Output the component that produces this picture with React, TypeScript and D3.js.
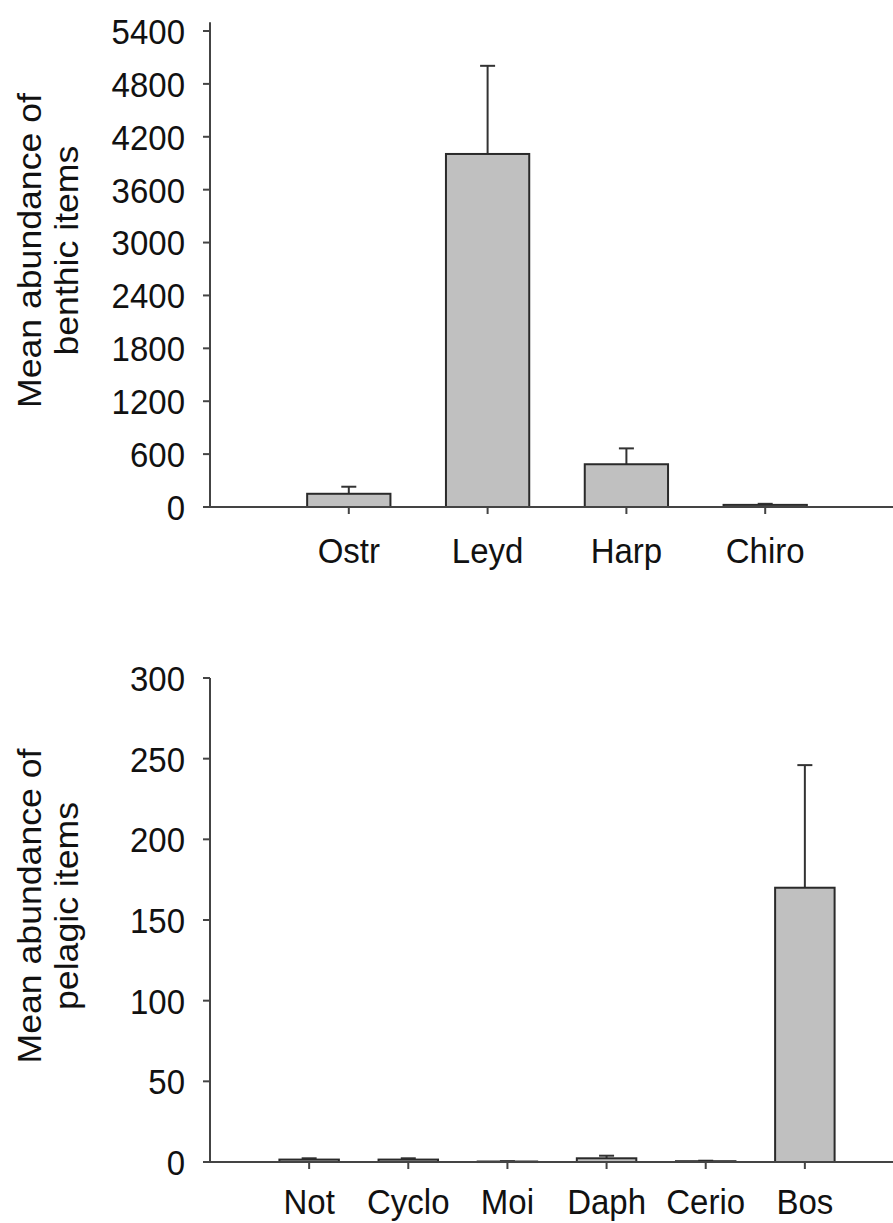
import React from "react";
import * as d3 from "d3";

// benthic panel
const benthicCats = ["Ostr", "Leyd", "Harp", "Chiro"];
const benthicMean = [150, 4005, 485, 24];
const benthicErr = [80, 1000, 180, 12];
const benthicTicks = [0, 600, 1200, 1800, 2400, 3000, 3600, 4200, 4800, 5400];

// pelagic panel
const pelagicCats = ["Not", "Cyclo", "Moi", "Daph", "Cerio", "Bos"];
const pelagicMean = [1.5, 1.5, 0.3, 2.3, 0.5, 170];
const pelagicErr = [0.8, 0.8, 0.2, 1.6, 0.3, 76];
const pelagicTicks = [0, 50, 100, 150, 200, 250, 300];

const W = 893;
const H = 1223;
const FONT = "'Liberation Sans', Arial, sans-serif";
const FS = 33;
const STRETCH = 1.08; // the source figure is a little taller than wide

function Label({ x, y, rotate = 0, anchor = "middle", dy = "0", children }: any) {
  return (
    <text
      transform={`translate(${x},${y}) scale(1,${STRETCH}) rotate(${rotate})`}
      dy={dy}
      textAnchor={anchor}
      fontFamily={FONT}
      fontSize={FS}
      fill="#111"
    >
      {children}
    </text>
  );
}

function Panel({ cats, mean, err, ticks, yMax, y0, y1, title }: any) {
  const axisX = 210;
  const x = d3.scaleLinear([0, cats.length + 1], [axisX, 904]);
  const y = d3.scaleLinear([0, ticks[ticks.length - 1]], [y0, y1]);
  const barW = (x(1) - x(0)) * 0.6;
  const cap = 7.5;
  const titleMid = (y(0) + y(yMax)) / 2 - 14;
  const labelY = Math.min(y(0) + 56, H - 9);

  return (
    <g>
      {/* bars with upper error bars */}
      {cats.map((c, i) => {
        const cx = x(i + 1);
        const top = y(mean[i]);
        const eTop = y(mean[i] + err[i]);
        return (
          <g key={c}>
            <line x1={cx} x2={cx} y1={top} y2={eTop} stroke="#333" strokeWidth={2} />
            <line x1={cx - cap} x2={cx + cap} y1={eTop} y2={eTop} stroke="#333" strokeWidth={2} />
            <rect
              x={cx - barW / 2}
              y={top}
              width={barW}
              height={Math.max(y(0) - top, 0.5)}
              fill="#c0c0c0"
              stroke="#2a2a2a"
              strokeWidth={2}
            />
          </g>
        );
      })}

      {/* y axis */}
      <line x1={axisX} x2={axisX} y1={y(0)} y2={y(yMax)} stroke="#444" strokeWidth={2} />
      {ticks.map((t) => (
        <g key={t}>
          <line x1={axisX - 7} x2={axisX} y1={y(t)} y2={y(t)} stroke="#444" strokeWidth={2} />
          <Label x={185} y={y(t)} dy="0.36em" anchor="end">
            {t}
          </Label>
        </g>
      ))}

      {/* x axis */}
      <line x1={axisX} x2={W} y1={y(0)} y2={y(0)} stroke="#444" strokeWidth={2} />
      {cats.map((c, i) => (
        <g key={"t" + c}>
          <line x1={x(i + 1)} x2={x(i + 1)} y1={y(0)} y2={y(0) + 7} stroke="#444" strokeWidth={2} />
          <Label x={x(i + 1)} y={labelY}>
            {c}
          </Label>
        </g>
      ))}

      {/* y title, two lines */}
      <Label x={41} y={titleMid} rotate={-90}>
        {title[0]}
      </Label>
      <Label x={78} y={titleMid} rotate={-90}>
        {title[1]}
      </Label>
    </g>
  );
}

export default function App() {
  return (
    <svg
      width={W}
      height={H}
      viewBox={`0 0 ${W} ${H}`}
      style={{ position: "absolute", left: 0, top: 0, background: "#fff" }}
    >
      <Panel
        cats={benthicCats}
        mean={benthicMean}
        err={benthicErr}
        ticks={benthicTicks}
        yMax={5500}
        y0={507}
        y1={31}
        title={["Mean abundance of", "benthic items"]}
      />
      <Panel
        cats={pelagicCats}
        mean={pelagicMean}
        err={pelagicErr}
        ticks={pelagicTicks}
        yMax={300}
        y0={1162}
        y1={678}
        title={["Mean abundance of", "pelagic items"]}
      />
    </svg>
  );
}
